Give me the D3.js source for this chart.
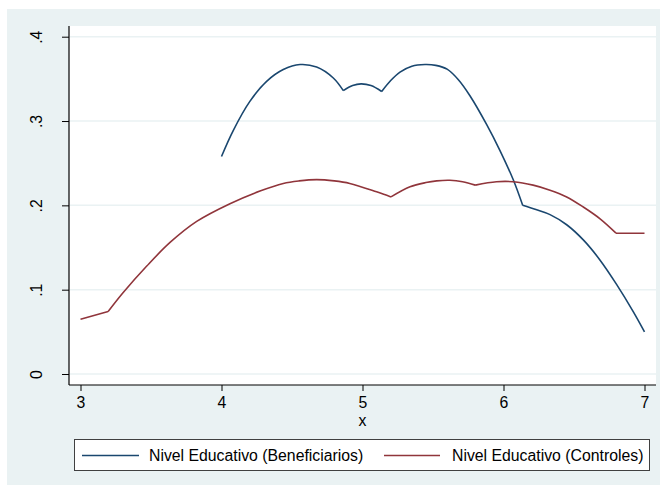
<!DOCTYPE html>
<html>
<head>
<meta charset="utf-8">
<script src="https://cdn.jsdelivr.net/npm/d3@7"></script>
<style>
  html, body { margin: 0; padding: 0; background: #ffffff; }
  svg { display: block; }
  text { font-family: "Liberation Sans", Arial, sans-serif; fill: #000; }
</style>
</head>
<body>
<svg id="chart" width="660" height="486"></svg>
<script>
// Nivel educativo: beneficiarios
const benefX = [4.0, 4.084, 4.20, 4.32, 4.438, 4.557, 4.675, 4.793, 4.864, 4.93, 4.99, 5.06, 5.136, 5.20, 5.266, 5.35, 5.443, 5.52, 5.60, 5.68, 5.762, 5.88, 5.975, 6.07, 6.136, 6.23, 6.33, 6.448, 6.566, 6.685, 6.803, 6.92, 7.0];
const benefY = [0.258, 0.289, 0.323, 0.347, 0.361, 0.367, 0.364, 0.351, 0.336, 0.342, 0.344, 0.342, 0.335, 0.348, 0.358, 0.365, 0.367, 0.366, 0.3615, 0.349, 0.330, 0.296, 0.265, 0.230, 0.200, 0.195, 0.189, 0.177, 0.159, 0.135, 0.106, 0.074, 0.050];
// x values where the beneficiarios curve has a corner
const benefBreaks = [4.864, 5.136, 6.136];

// Nivel educativo: controles
const controlX = [3.0, 3.196, 3.30, 3.47, 3.635, 3.824, 4.06, 4.273, 4.438, 4.55, 4.675, 4.80, 4.91, 5.10, 5.202, 5.337, 5.45, 5.526, 5.62, 5.71, 5.80, 5.95, 6.07, 6.21, 6.33, 6.448, 6.566, 6.685, 6.798, 7.0];
const controlY = [0.065, 0.074, 0.096, 0.128, 0.156, 0.181, 0.202, 0.217, 0.226, 0.229, 0.2305, 0.229, 0.226, 0.216, 0.210, 0.222, 0.227, 0.229, 0.2297, 0.228, 0.224, 0.228, 0.228, 0.224, 0.218, 0.210, 0.198, 0.184, 0.167, 0.167];
// x values where the controles curve has a corner
const controlBreaks = [3.196, 5.202, 5.80, 6.798];

const xTicks = [3, 4, 5, 6, 7];
const yTicks = [0, 0.1, 0.2, 0.3, 0.4];
const yTickLabels = ["0", ".1", ".2", ".3", ".4"];
const seriesNames = ["Nivel Educativo (Beneficiarios)", "Nivel Educativo (Controles)"];
const seriesColors = ["#1a476f", "#90353b"];

const FONT = "15.8px";
const svg = d3.select("#chart");

// graph region background
svg.append("rect")
  .attr("x", 7).attr("y", 9).attr("width", 653).attr("height", 476)
  .attr("fill", "#eaf2f3");

// plot region
const plotLeft = 69, plotRight = 656, plotTop = 26, plotBottom = 385;
svg.append("rect")
  .attr("x", plotLeft).attr("y", plotTop)
  .attr("width", plotRight - plotLeft).attr("height", plotBottom - plotTop)
  .attr("fill", "#ffffff");

const x = d3.scaleLinear().domain([3, 7]).range([80.5, 644.5]);
const y = d3.scaleLinear().domain([0, 0.4]).range([374, 36.7]);

// horizontal grid lines
svg.append("g")
  .selectAll("line")
  .data(yTicks)
  .join("line")
  .attr("x1", plotLeft + 1).attr("x2", plotRight)
  .attr("y1", d => y(d)).attr("y2", d => y(d))
  .attr("stroke", "#eaf2f3").attr("stroke-width", 1.5);

// y axis, labels turned vertical
const yAxis = d3.axisLeft(y)
  .tickValues(yTicks)
  .tickFormat((d, i) => yTickLabels[i])
  .tickSize(7);
const gy = svg.append("g").attr("transform", `translate(${plotLeft},0)`).call(yAxis);
gy.select(".domain").remove();
gy.selectAll(".tick line").attr("stroke", "#000");
gy.selectAll(".tick text")
  .attr("font-size", FONT)
  .attr("transform", "rotate(-90)")
  .attr("text-anchor", "middle")
  .attr("x", 0)
  .attr("y", -27)
  .attr("dy", 0);
svg.append("line")
  .attr("x1", plotLeft).attr("x2", plotLeft)
  .attr("y1", plotTop).attr("y2", plotBottom)
  .attr("stroke", "#000").attr("stroke-width", 1.2);

// x axis
const xAxis = d3.axisBottom(x)
  .tickValues(xTicks)
  .tickFormat(d3.format("d"))
  .tickSize(6)
  .tickPadding(6);
const gx = svg.append("g").attr("transform", `translate(0,${plotBottom})`).call(xAxis);
gx.select(".domain").remove();
gx.selectAll(".tick line").attr("stroke", "#000");
gx.selectAll(".tick text").attr("font-size", FONT).attr("dy", "0.71em");
svg.append("line")
  .attr("x1", plotLeft).attr("x2", plotRight)
  .attr("y1", plotBottom).attr("y2", plotBottom)
  .attr("stroke", "#000").attr("stroke-width", 1.2);

// x axis title
svg.append("text")
  .attr("x", x(5)).attr("y", 426)
  .attr("text-anchor", "middle")
  .attr("font-size", FONT)
  .text("x");

// split a series into smooth pieces between its corners
function pieces(xs, ys, breaks) {
  const out = [];
  let cur = [];
  xs.forEach((xv, i) => {
    cur.push([xv, ys[i]]);
    if (breaks.includes(xv)) {
      out.push(cur);
      cur = [[xv, ys[i]]];
    }
  });
  if (cur.length > 1) out.push(cur);
  return out;
}

const line = d3.line()
  .x(d => x(d[0])).y(d => y(d[1]))
  .curve(d3.curveCatmullRom.alpha(0.5));

const series = [
  pieces(benefX, benefY, benefBreaks),
  pieces(controlX, controlY, controlBreaks)
];
series.forEach((segs, i) => {
  const path = segs.map(s => line(s)).join("");
  svg.append("path")
    .attr("d", path)
    .attr("fill", "none")
    .attr("stroke", seriesColors[i])
    .attr("stroke-width", 1.6)
    .attr("stroke-linejoin", "miter");
});

// legend
const legend = svg.append("g");
legend.append("rect")
  .attr("x", 74.5).attr("y", 439.5).attr("width", 575).attr("height", 31)
  .attr("fill", "#ffffff").attr("stroke", "#404040").attr("stroke-width", 1);
const legendItems = [
  { x1: 82, x2: 139, tx: 149 },
  { x1: 384, x2: 440, tx: 452 }
];
legendItems.forEach((it, i) => {
  legend.append("line")
    .attr("x1", it.x1).attr("x2", it.x2)
    .attr("y1", 455.5).attr("y2", 455.5)
    .attr("stroke", seriesColors[i]).attr("stroke-width", 1.6);
  legend.append("text")
    .attr("x", it.tx).attr("y", 461)
    .attr("font-size", FONT)
    .text(seriesNames[i]);
});
</script>
</body>
</html>
